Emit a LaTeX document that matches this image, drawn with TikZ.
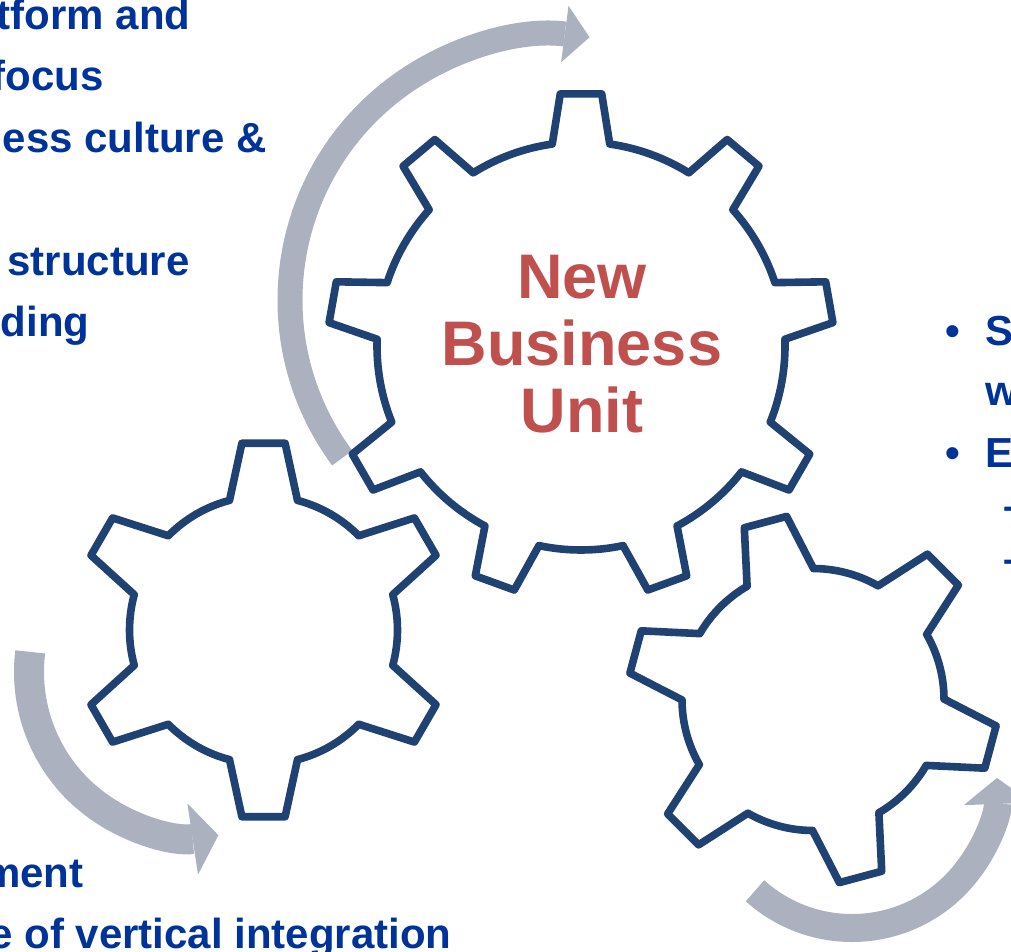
\documentclass[tikz,border=0pt]{standalone}
\usepackage{fontspec}
\setmainfont{Liberation Sans}
\usepackage{tikz}
\usetikzlibrary{arrows.meta}
\definecolor{gearblue}{RGB}{31,66,114}
\definecolor{unitred}{RGB}{192,80,77}
\definecolor{textblue}{RGB}{0,51,153}
\definecolor{arrowgrey}{RGB}{172,177,191}
\tikzset{
    gear-line/.style = {draw=gearblue, fill=white, line width=3.8pt, line join=round},
    turn-arrow/.style = {draw=arrowgrey, line width=#1},
    item-text/.style = {text=textblue, font=\bfseries\fontsize{21}{30}\selectfont, inner sep=0pt},
    unit-title/.style = {text=unitred, font=\bfseries\fontsize{31.5}{33.5}\selectfont, align=center, inner sep=0pt},
}
% centre, teeth, outer radius, root radius, first tooth angle, tip half angle, root half angle
\newcommand{\drawgear}[7]{%
  \draw[gear-line, shift={(#1)}] ({#5-#7}:#4)
    \foreach \k [evaluate=\k as \p using #5+(\k-1)*360/#2] in {1,...,#2}
      { -- ({\p-#6}:#3) -- ({\p+#6}:#3) -- ({\p+#7}:#4)
        arc[start angle=\p+#7, end angle=\p+360/#2-#7, radius=#4] }
    -- cycle;
}

\begin{document}
\begin{tikzpicture}[x=0.5pt, y=-0.5pt]
\useasboundingbox (0,0) rectangle (1011,952);
\clip (0,0) rectangle (1011,952);

\coordinate (core-gear) at (581,346);
\coordinate (left-gear) at (263.5,630);
\coordinate (right-gear) at (813,699.5);
\coordinate (top-turn) at (555,300);
\coordinate (left-turn) at (194,672);
\coordinate (right-turn) at (852,783);

% grey turning arrows
\draw[turn-arrow=12.5pt, -{Triangle[length=12.5pt, width=28.5pt, line width=0pt]}]
    (top-turn) ++(143.4:265) arc[start angle=143.4, end angle=277.5, radius=265];
\draw[turn-arrow=15pt, -{Triangle[length=13pt, width=36pt, line width=0pt]}]
    (left-turn) ++(187:165) arc[start angle=187, end angle=81.5, radius=165];
\draw[turn-arrow=14pt, -{Triangle[length=13pt, width=34pt, line width=0pt]}]
    (right-turn) ++(132:145) arc[start angle=132, end angle=-2, radius=145];

% gears
\drawgear{core-gear}{9}{253}{204}{-90}{4.7}{8.1}
\drawgear{left-gear}{6}{188}{134}{-90}{6.6}{14.7}
\drawgear{right-gear}{6}{185}{131}{-105}{6.8}{15.2}

\node[unit-title] (unit-label) at (582,344) {New\\Business\\Unit};

% left text
\node[item-text, anchor=base east] (left-a) at (191,30) {tform and};
\node[item-text, anchor=base east] (left-b) at (104,91) {focus};
\node[item-text, anchor=base east] (left-c) at (267,153) {ess culture \&};
\node[item-text, anchor=base east] (left-d) at (190,275) {structure};
\node[item-text, anchor=base east] (left-e) at (90,336) {ding};
\node[item-text, anchor=base east] (low-a) at (84,887) {ment};
\node[item-text, anchor=base east] (low-b) at (452,948) {e of vertical integration};

% right text
\node[item-text, anchor=base] (dot-a) at (953,345) {•};
\node[item-text, anchor=base west] (right-a) at (985,345) {S};
\node[item-text, anchor=base west] (right-b) at (985,405) {w};
\node[item-text, anchor=base] (dot-b) at (953,467) {•};
\node[item-text, anchor=base west] (right-c) at (985,467) {E};
\node[item-text, anchor=base west] (sub-a) at (1003,520) {–};
\node[item-text, anchor=base west] (sub-b) at (1003,573) {–};
\end{tikzpicture}
\end{document}
